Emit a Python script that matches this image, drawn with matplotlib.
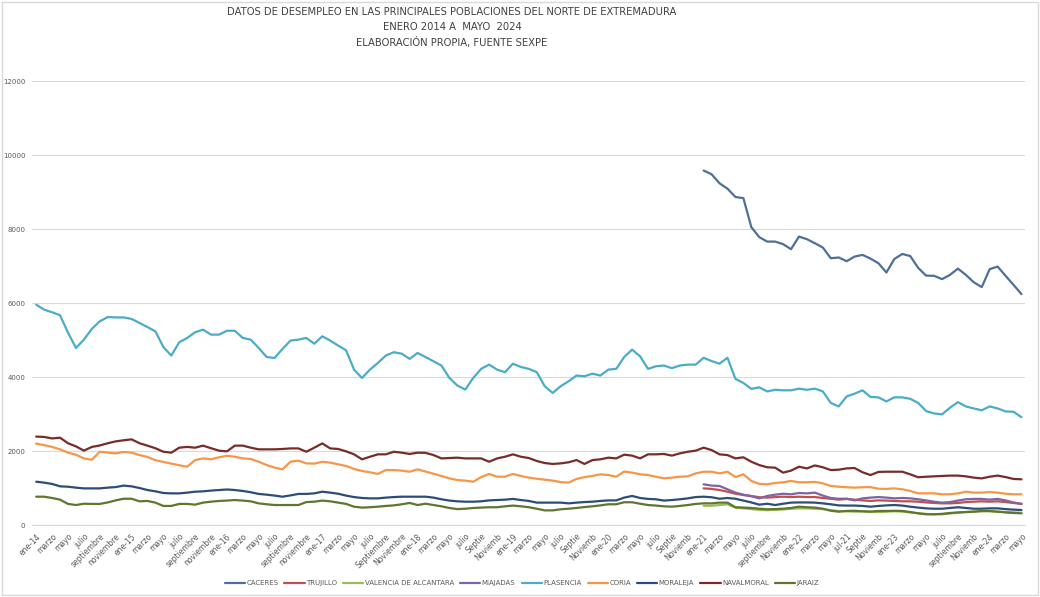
import numpy as np
import matplotlib.pyplot as plt
from matplotlib.patches import Rectangle

# etiquetas del eje X (una cada dos meses, ene-14 .. mayo-24)
tick_labels = [
    "ene-14", "marzo", "mayo", "julio", "septiembre", "noviembre",
    "ene-15", "marzo", "mayo", "julio", "septiembre", "noviembre",
    "ene-16", "marzo", "mayo", "julio", "septiembre", "noviembre",
    "ene-17", "marzo", "mayo", "julio", "Septiembre", "Noviembre",
    "ene-18", "marzo", "mayo", "julio", "Septie", "Noviemb",
    "ene-19", "marzo", "mayo", "julio", "Septie", "Noviemb",
    "ene-20", "marzo", "mayo", "julio", "Septie", "Noviemb",
    "ene-21", "marzo", "mayo", "julio", "septiembre", "Noviemb",
    "ene-22", "marzo", "mayo", "jul-21", "Septie", "Noviemb",
    "ene-23", "marzo", "mayo", "julio", "septiembre", "Noviemb",
    "ene-24", "marzo", "mayo",
]
n_months = 125
start_2021 = 84  # ene-21, primer mes de las series cortas

# series completas (ene-14 .. mayo-24)
plasencia = [5955, 5820, 5750, 5670, 5200, 4785, 5010, 5300, 5505, 5620, 5610, 5610, 5570, 5460, 5350, 5235,
             4810, 4580, 4940, 5055, 5210, 5280, 5145, 5145, 5250, 5250, 5055, 5010, 4785, 4540, 4515, 4760,
             4985, 5010, 5055, 4900, 5100, 4985, 4850, 4720,
             4200, 3975, 4200, 4380, 4580, 4670, 4630, 4490, 4650, 4540, 4425, 4310, 3975, 3770, 3660, 3975,
             4220, 4335, 4200, 4130, 4360, 4270, 4220, 4130, 3750, 3570, 3750, 3885, 4040, 4020, 4090, 4040,
             4200, 4220, 4540, 4740, 4560, 4220, 4290, 4310, 4240, 4310, 4335, 4335,
             4520, 4430, 4360, 4520, 3950, 3840, 3680, 3720, 3610, 3655, 3640, 3640, 3685, 3655, 3685, 3610,
             3300, 3205, 3475, 3550, 3640, 3460, 3450, 3340, 3450, 3450, 3410, 3300, 3080, 3015, 2990, 3170,
             3320, 3205, 3150, 3100, 3205, 3150, 3070, 3060, 2915]
navalmoral = [2390, 2380, 2340, 2360, 2210, 2125, 2010, 2110, 2150, 2210, 2260, 2290, 2315, 2210, 2145, 2075,
              1980, 1955, 2090, 2110, 2090, 2145, 2075, 2010, 1990,
              2145, 2145, 2090, 2045, 2045, 2045, 2055, 2070, 2070, 1980, 2090, 2205, 2070, 2055, 1990, 1910,
              1775, 1845, 1910, 1910, 1980, 1955, 1920, 1955, 1950,
              1890, 1800, 1810, 1820, 1800, 1800, 1800, 1710, 1800, 1845, 1910, 1845, 1810, 1730, 1675, 1650,
              1665, 1695, 1755, 1650, 1755, 1775, 1820, 1800, 1900,
              1875, 1800, 1910, 1910, 1920, 1875, 1935, 1980, 2010, 2090, 2025, 1910, 1890, 1800, 1830, 1710,
              1620, 1560, 1550, 1415, 1470, 1575, 1530, 1610, 1560,
              1485, 1495, 1530, 1540, 1425, 1350, 1435, 1440, 1440, 1440, 1370, 1290, 1305, 1315, 1325, 1335,
              1335, 1315, 1280, 1260, 1305, 1335, 1295, 1245, 1235]
coria = [2200, 2160, 2110, 2045, 1955, 1900, 1800, 1765, 1980, 1955, 1935, 1975, 1955, 1890, 1840, 1750,
         1705, 1660, 1615, 1575, 1755, 1800, 1775, 1830, 1870,
         1845, 1800, 1785, 1710, 1620, 1550, 1505, 1710, 1740, 1665, 1660, 1710, 1685, 1640, 1595, 1515,
         1460, 1425, 1380, 1485, 1485, 1470, 1440, 1505, 1445,
         1385, 1325, 1260, 1215, 1200, 1170, 1295, 1380, 1305, 1305, 1380, 1325, 1280, 1250, 1225, 1200,
         1160, 1145, 1245, 1295, 1325, 1370, 1350, 1305, 1445,
         1415, 1370, 1350, 1305, 1260, 1280, 1305, 1315, 1395, 1440, 1440, 1395, 1440, 1295, 1370, 1190,
         1110, 1100, 1135, 1155, 1190, 1155, 1155, 1165, 1125,
         1055, 1035, 1020, 1010, 1020, 1025, 980, 975, 990, 965, 920, 855, 855, 855, 830, 830,
         855, 900, 875, 875, 890, 875, 845, 830, 830]
moraleja = [1170, 1145, 1110, 1045, 1035, 1010, 990, 990, 990, 1010, 1025, 1065, 1045, 1000, 945, 910,
            865, 855, 855, 875, 900, 910, 930, 945, 960,
            945, 920, 885, 840, 820, 795, 765, 800, 840, 840, 855, 900, 875, 845, 795, 755,
            730, 720, 720, 740, 755, 765, 765, 765, 765,
            740, 695, 660, 640, 630, 630, 640, 665, 675, 685, 705, 675, 650, 605, 605, 605,
            605, 585, 605, 620, 630, 650, 665, 665, 740,
            785, 730, 705, 695, 660, 675, 695, 720, 755, 765, 750, 710, 730, 710, 660, 610,
            550, 575, 540, 575, 605, 610, 610, 605, 585,
            560, 530, 525, 525, 515, 495, 515, 530, 540, 525, 495, 470, 450, 440, 440, 460,
            480, 460, 440, 440, 450, 450, 430, 415, 405]
jaraiz = [765, 765, 730, 685, 570, 540, 575, 570, 570, 610, 665, 710, 710, 640, 650, 605,
          515, 515, 570, 570, 550, 605, 630, 650, 660,
          675, 660, 640, 585, 560, 540, 540, 540, 540, 620, 630, 660, 640, 605, 570, 495,
          470, 480, 495, 515, 530, 560, 595, 540, 575,
          540, 505, 460, 430, 440, 460, 470, 480, 480, 505, 525, 505, 480, 440, 395, 395,
          425, 440, 460, 485, 505, 530, 560, 560, 615,
          615, 575, 540, 525, 505, 495, 515, 540, 570, 585, 585, 605, 605, 480, 470, 460,
          440, 425, 430, 440, 460, 495, 480, 470, 440,
          385, 360, 380, 385, 370, 360, 380, 380, 385, 380, 350, 315, 290, 290, 300, 325,
          340, 350, 360, 380, 380, 360, 340, 325, 315]

# series que empiezan en ene-21
caceres = [9580, 9480, 9235, 9090, 8865, 8835, 8050, 7780, 7660, 7660, 7590, 7455, 7795, 7725, 7615, 7500,
           7210, 7230, 7130, 7255, 7300, 7200, 7075, 6825, 7190, 7325, 7270, 6950, 6740, 6735, 6645, 6760,
           6930, 6760, 6560, 6430, 6915, 6985, 6735, 6490, 6240]
trujillo = [990, 975, 945, 900, 845, 810, 785, 750, 740, 755, 765, 755, 765, 755, 755, 730,
            710, 685, 705, 685, 665, 650, 665, 660, 650, 640, 640, 630, 610, 595, 585, 585,
            595, 620, 630, 640, 630, 640, 620, 595, 570]
miajadas = [1100, 1065, 1055, 965, 875, 820, 775, 720, 785, 820, 845, 830, 865, 855, 875, 795,
            730, 710, 710, 665, 720, 740, 755, 740, 720, 730, 720, 695, 665, 630, 605, 620,
            660, 695, 705, 705, 685, 705, 665, 610, 570]
valencia = [520, 520, 540, 560, 470, 450, 430, 410, 400, 410, 420, 440, 450, 450, 440, 430,
            400, 380, 370, 360, 370, 360, 350, 360, 370, 360, 340, 320, 300, 290, 290, 310,
            330, 350, 360, 370, 370, 360, 350, 340, 330]

series = [
    ("CACERES", caceres, "#4F6F96"),
    ("TRUJILLO", trujillo, "#C0504D"),
    ("VALENCIA DE ALCANTARA", valencia, "#9BBB59"),
    ("MIAJADAS", miajadas, "#8064A2"),
    ("PLASENCIA", plasencia, "#4BACC6"),
    ("CORIA", coria, "#F79646"),
    ("MORALEJA", moraleja, "#2C4D75"),
    ("NAVALMORAL", navalmoral, "#772C2A"),
    ("JARAIZ", jaraiz, "#5F7530"),
]

fig = plt.figure(figsize=(10.4, 5.97), dpi=100)
fig.patches.append(Rectangle((0.002, 0.003), 0.996, 0.994, transform=fig.transFigure,
                             fill=False, edgecolor="#D9D9D9", lw=1))
ax = fig.add_axes([0.031, 0.1206, 0.955, 0.7437])

for name, vals, col in series:
    x0 = n_months - len(vals)
    ax.plot(np.arange(x0, n_months), vals, color=col, lw=1.6, label=name,
            solid_joinstyle="round", solid_capstyle="round")

ax.set_xlim(-0.5, n_months - 0.5)
ax.set_ylim(0, 12000)
ax.set_yticks(range(0, 12001, 2000))
ax.set_yticklabels([str(v) for v in range(0, 12001, 2000)], fontsize=5, color="#595959")
ax.grid(axis="y", color="#D9D9D9", lw=0.8)
ax.set_axisbelow(True)
for s in ["top", "right", "left"]:
    ax.spines[s].set_visible(False)
ax.spines["bottom"].set_color("#D9D9D9")

ax.set_xticks(range(0, n_months, 2))
ax.set_xticklabels(tick_labels, rotation=45, ha="right", va="top", rotation_mode="anchor",
                   fontsize=5.5, color="#595959")
ax.tick_params(axis="both", length=0)
ax.tick_params(axis="x", pad=5)
ax.tick_params(axis="y", pad=5)

title = ("DATOS DE DESEMPLEO EN LAS PRINCIPALES POBLACIONES DEL NORTE DE EXTREMADURA\n"
         "ENERO 2014 A  MAYO  2024\n"
         "ELABORACIÓN PROPIA, FUENTE SEXPE")
fig.text(452 / 1040, 1 - 7 / 597, title, ha="center", va="top", fontsize=7.2, color="#404040",
         linespacing=1.6, family=["Liberation Sans Narrow", "DejaVu Sans"])

fig.legend(loc="center", bbox_to_anchor=(522 / 1040, 1 - 583 / 597), ncol=9, frameon=False,
           fontsize=5, handlelength=2.9, handletextpad=0.2, columnspacing=0.9,
           labelcolor="#595959")

fig.savefig("out.png", dpi=100)
